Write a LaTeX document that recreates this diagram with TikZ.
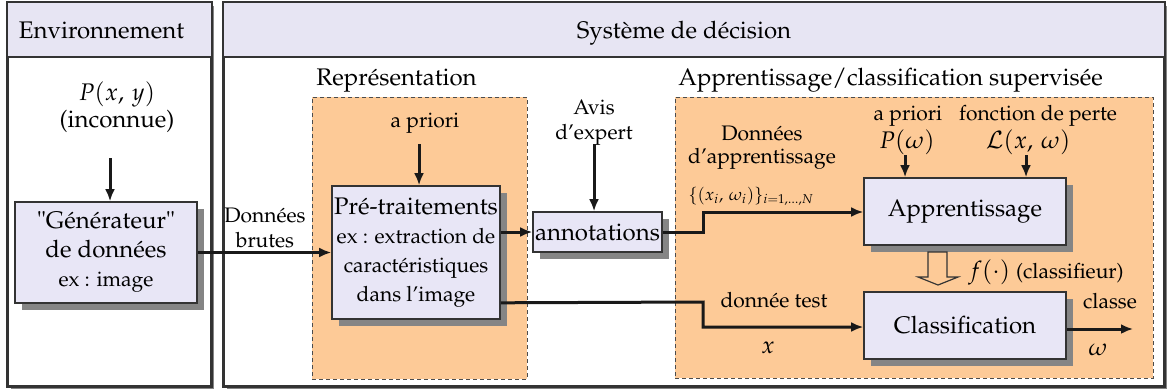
\documentclass[tikz,border=0pt]{standalone}
\usepackage[T1]{fontenc}
\usepackage{mathpazo}
\usetikzlibrary{arrows.meta,shadows,calc}

\definecolor{hdrfill}{HTML}{E7E5F3}
\definecolor{boxfill}{HTML}{E8E6F6}
\definecolor{orng}{HTML}{FDCA97}
\definecolor{shade}{HTML}{858585}
\definecolor{edge}{HTML}{333333}

\newcommand\mainsz{\fontsize{12}{14.5}\selectfont}
\newcommand\smallsz{\fontsize{10.5}{14.5}\selectfont}

\tikzset{
  panel/.style={draw=edge, line width=1pt, fill=white, inner sep=0pt,
    drop shadow={shadow xshift=1.6pt, shadow yshift=-1.6pt, fill=shade, opacity=1}},
  zone/.style={draw=black!70, fill=orng, dashed, dash pattern=on 2pt off 1.5pt,
    line width=0.5pt, inner sep=0pt},
  blockbox/.style={draw=edge, line width=0.8pt, fill=boxfill, inner sep=0pt,
    align=center, font=\mainsz,
    drop shadow={shadow xshift=3.5pt, shadow yshift=-3.5pt, fill=shade, opacity=1}},
  lbl/.style={anchor=base, inner sep=0pt, font=\mainsz},
  slbl/.style={anchor=base, inner sep=0pt, font=\smallsz},
  flow/.style={line width=1.5pt, draw=black!90, -{Latex[length=6pt,width=5pt]}},
}

\begin{document}
\begin{tikzpicture}[x=0.5pt, y=-0.5pt]
\useasboundingbox (0,0) rectangle (1171,391);

% ---- outer panels ----
\node[panel, minimum width=101.5pt, minimum height=191.5pt] (env) at (109.5,194.5) {};
\node[panel, minimum width=470pt, minimum height=191.5pt] (sys) at (694,194.5) {};
\fill[hdrfill] (env.north west) rectangle (env.east |- 0,57);
\fill[hdrfill] (sys.north west) rectangle (sys.east |- 0,57);
\draw[edge, line width=1pt] (env.west |- 0,57) -- (env.east |- 0,57);
\draw[edge, line width=1pt] (sys.west |- 0,57) -- (sys.east |- 0,57);
\draw[edge, line width=1pt] (env.north west) rectangle (env.south east);
\draw[edge, line width=1pt] (sys.north west) rectangle (sys.south east);

\node[lbl] (envtitle) at (101.5,38) {Environnement};
\node[lbl] (systitle) at (684,38) {Système de décision};

% ---- dashed zones ----
\node[zone, minimum width=107.5pt, minimum height=141pt] (rep) at (419.5,238) {};
\node[zone, minimum width=239pt, minimum height=140.5pt] (appr) at (914,237.5) {};
\node[lbl, anchor=base west] (reptitle) at (316,85) {Représentation};
\node[lbl, anchor=base west] (apprtitle) at (678,85) {Apprentissage/classification supervisée};

% ---- blocks ----
\node[blockbox, minimum width=91pt, minimum height=50.5pt] (gen) at (106,252.5)
  {"Générateur"\\de données\\\smallsz ex : image};
\node[blockbox, minimum width=84pt, minimum height=66.5pt] (pre) at (416,252.5)
  {Pré-traitements\\\smallsz ex : extraction de\\\smallsz caractéristiques\\\smallsz dans l'image};
\node[blockbox, minimum width=64.5pt, minimum height=20pt] (ann) at (597.5,232) {annotations};
\node[blockbox, minimum width=101pt, minimum height=33.5pt] (app) at (965,211.5) {Apprentissage};
\node[blockbox, minimum width=101pt, minimum height=33.5pt] (cls) at (965,325.5) {Classification};

% ---- environment ----
\node[lbl] (pxy) at (117,100) {$P(x,\,y)$};
\node[lbl] (inc) at (117,127) {(inconnue)};
\coordinate (pxytail) at (110,158);
\draw[flow] (pxytail) -- (pxytail |- gen.north);

% ---- raw data ----
\node[slbl] (don) at (265,222) {Données};
\node[slbl] (bru) at (265,247) {brutes};
\draw[flow] (gen.east) -- (pre.west);

% ---- representation ----
\node[slbl] (apr1) at (425,127) {a priori};
\coordinate (apr1tail) at (419,144);
\draw[flow] (apr1tail) -- (apr1tail |- pre.north);

\node[slbl] (avis) at (594,114) {Avis};
\node[slbl] (expert) at (594,139) {d'expert};
\coordinate (avistail) at (594,144);
\draw[flow] (avistail) -- (avistail |- ann.north);

\draw[flow] (pre.east |- ann.west) -- (ann.west);

% ---- learning data ----
\node[slbl] (dapp1) at (762,140) {Données};
\node[slbl] (dapp2) at (762,163) {d'apprentissage};
\node[lbl, anchor=base west, font=\fontsize{8.5}{10}\selectfont] (set) at (688,200)
  {$\{(x_i,\,\omega_i)\}_{i=1,\ldots,N}$};
\coordinate (jog1) at (703,232);
\coordinate (jog2) at (703,212);
\draw[flow] (ann.east) -- (jog1) -- (jog2) -- (jog2 -| app.west);

% ---- priors and loss ----
\node[slbl] (apr2) at (908,120) {a priori};
\node[lbl] (pw) at (907,148) {$P(\omega)$};
\coordinate (pwtail) at (905,155);
\draw[flow] (pwtail) -- (pwtail |- app.north);

\node[slbl] (loss) at (1038,120) {fonction de perte};
\node[lbl] (lxw) at (1028,148) {$\mathcal{L}(x,\,\omega)$};
\coordinate (losstail) at (1026,155);
\draw[flow] (losstail) -- (losstail |- app.north);

% ---- learned classifier ----
\draw[edge, line width=0.6pt] (928,252) -- (947,252) -- (947,277) -- (958,277)
  -- (938,285) -- (918,277) -- (928,277) -- cycle;
\node[lbl, anchor=base west] (fcls) at (968,278) {$f(\cdot)$ {\smallsz(classifieur)}};

% ---- test data ----
\coordinate (test0) at ($(pre.south east)+(0,-17)$);
\coordinate (jog3) at (703,302);
\coordinate (jog4) at (703,327);
\draw[flow] (test0) -- (jog3) -- (jog4) -- (jog4 -| cls.west);
\node[slbl] (dtest) at (774,307) {donnée test};
\node[lbl] (xv) at (768,353) {$x$};

% ---- output ----
\coordinate (outtip) at (1133,329);
\draw[flow] (outtip -| cls.east) -- (outtip);
\node[slbl] (classe) at (1110,308) {classe};
\node[lbl] (wv) at (1098,355) {$\omega$};
\end{tikzpicture}
\end{document}
